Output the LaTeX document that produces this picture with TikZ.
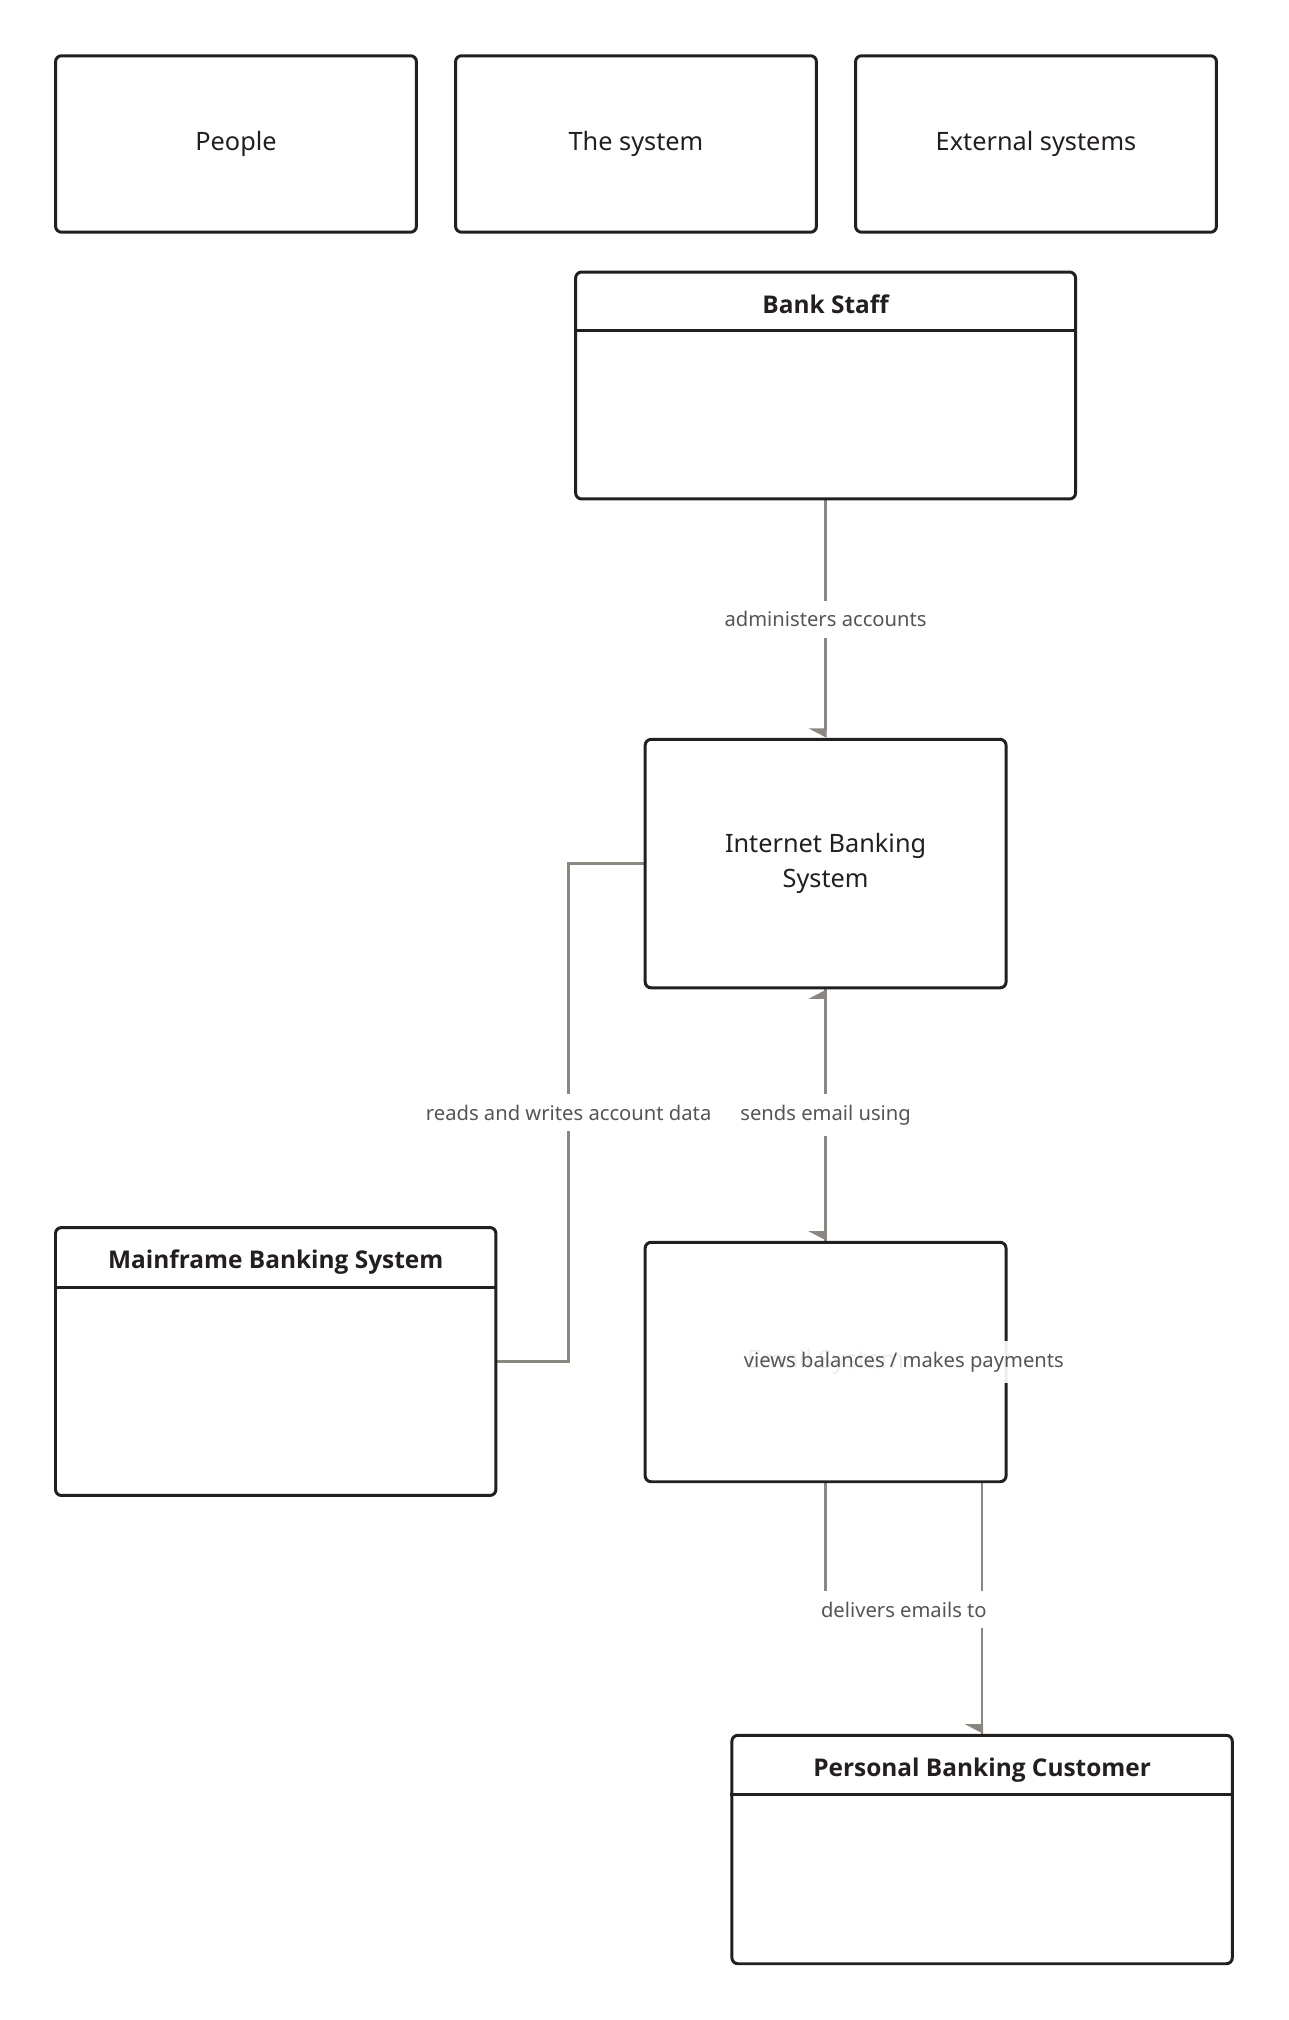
\documentclass[tikz,border=0pt]{standalone}
\usepackage{fontspec}
\setmainfont{Noto Sans}
\newfontfamily\headfont{Open Sans}
\usepackage{tikz}
\usetikzlibrary{arrows.meta, positioning, calc}
\definecolor{ink}{RGB}{35,31,32}
\definecolor{wire}{RGB}{138,134,128}
\definecolor{note}{RGB}{85,85,85}
\pgfdeclarelayer{background}
\pgfsetlayers{background,main}
\tikzset{
    box/.style={draw=ink, line width=1.7pt, rounded corners=0.12cm, fill=white, text=ink, align=center, inner sep=0pt, font=\fontsize{14.4}{20}\selectfont}, % every box
    heading/.style={text=ink, font=\headfont\bfseries\fontsize{13.9}{17}\selectfont}, % title of a box with a header
    rule/.style={draw=ink, line width=1.7pt}, % line under the title
    wire/.style={draw=wire, line width=1.5pt}, % connectors
    lbl/.style={fill=white, text=note, inner xsep=1pt, inner ysep=6pt, font=\fontsize{11.5}{14}\selectfont}, % connector labels
    downtip/.tip={Stealth[inset=0pt, right, length=0.18cm, width=0.68cm]},
    uptip/.tip={Stealth[inset=0pt, left, length=0.18cm, width=0.68cm]},
}

\begin{document}
\begin{tikzpicture}[x=0.02cm, y=-0.02cm]
    \useasboundingbox (0,0) rectangle (1288,2020);

    % legend
    \node[box, minimum width=7.22cm, minimum height=3.53cm] (people) at (236,144) {People};
    \node[box, minimum width=7.22cm, minimum height=3.53cm] (sys) at (636,144) {The system};
    \node[box, minimum width=7.22cm, minimum height=3.53cm] (ext) at (1036,144) {External systems};

    % boxes
    \node[box, minimum width=10cm, minimum height=4.54cm] (staff) at (825.6,385.5) {};
    \node[heading] (stafft) at ($(staff.north)+(0,34)$) {Bank Staff};
    \draw[rule] ($(staff.north west)+(0,60)$) -- ($(staff.north east)+(0,60)$);

    \node[box, minimum width=7.22cm, minimum height=4.97cm] (ibs) at (825.6,863.6) {Internet Banking\\System};
    \node[box, minimum width=7.22cm, minimum height=4.79cm] (mail) at (825.6,1362) {Email System};

    \node[box, minimum width=8.81cm, minimum height=5.36cm] (mf) at (275.7,1361.5) {};
    \node[heading] (mft) at ($(mf.north)+(0,36)$) {Mainframe Banking System};
    \draw[rule] ($(mf.north west)+(0,61)$) -- ($(mf.north east)+(0,61)$);

    \node[box, minimum width=10.01cm, minimum height=4.57cm] (cust) at (982.1,1849.5) {};
    \node[heading] (custt) at ($(cust.north)+(0,36)$) {Personal Banking Customer};
    \draw[rule] ($(cust.north west)+(0,60.5)$) -- ($(cust.north east)+(0,60.5)$);

    % connectors
    \begin{pgfonlayer}{background}
        \draw[wire, -uptip] (cust.north) -- (cust.north |- mail.center) -- coordinate (vb) (ibs.south |- mail.center) -- (ibs.south);
        \draw[wire] (ibs.west) -- ++(-75,0) coordinate (rw) -- node[lbl] {reads and writes account data} (rw |- mf.east) -- (mf.east);
        \draw[wire, -downtip] (staff.south) -- node[lbl] {administers accounts} (ibs.north);
        \draw[wire, -downtip] (ibs.south) -- node[lbl] {sends email using} (mail.north);
        \draw[wire, -downtip] (mail.south) -- ++(0,126.5) coordinate (dl) -- node[lbl] {delivers emails to} (dl -| cust.north) -- (cust.north);
    \end{pgfonlayer}
    \node[lbl, fill opacity=0.92, text opacity=1] (vbl) at (vb) {views balances / makes payments};
\end{tikzpicture}
\end{document}
